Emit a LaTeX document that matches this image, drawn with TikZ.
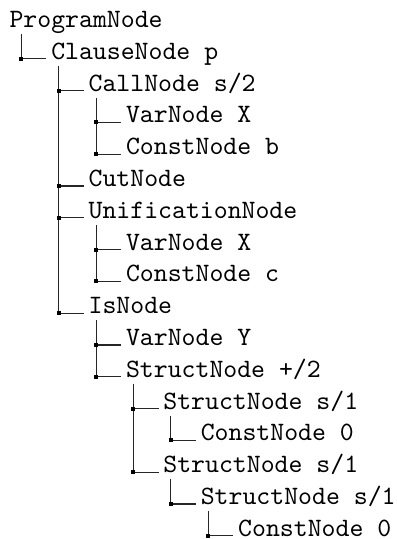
\documentclass[tikz,border=0pt]{standalone}
\usetikzlibrary{calc}
\tikzset{
  treetext/.style={anchor=base west, inner sep=0pt, outer sep=0pt, font=\ttfamily},
  branch/.style={line width=0.4pt, draw=black!85},
  knot/.style={fill=black}
}
\begin{document}
\begin{tikzpicture}
\useasboundingbox (0,0) rectangle (149.8pt,-203.4pt);

% tree entries (one row every 12pt, indent 14.11pt per level)
\node[treetext] (n0)  at (3.6pt,  -10.4pt)  {ProgramNode};
\node[treetext] (n1)  at (19.34pt,-22.4pt)  {ClauseNode p};
\node[treetext] (n2)  at (33.45pt,-34.4pt)  {CallNode s/2};
\node[treetext] (n3)  at (47.56pt,-46.4pt)  {VarNode X};
\node[treetext] (n4)  at (47.56pt,-58.4pt)  {ConstNode b};
\node[treetext] (n5)  at (33.45pt,-70.4pt)  {CutNode};
\node[treetext] (n6)  at (33.45pt,-82.4pt)  {UnificationNode};
\node[treetext] (n7)  at (47.56pt,-94.4pt)  {VarNode X};
\node[treetext] (n8)  at (47.56pt,-106.4pt) {ConstNode c};
\node[treetext] (n9)  at (33.45pt,-118.4pt) {IsNode};
\node[treetext] (n10) at (47.56pt,-130.4pt) {VarNode Y};
\node[treetext] (n11) at (47.56pt,-142.4pt) {StructNode +/2};
\node[treetext] (n12) at (61.67pt,-154.4pt) {StructNode s/1};
\node[treetext] (n13) at (75.78pt,-166.4pt) {ConstNode 0};
\node[treetext] (n14) at (61.67pt,-178.4pt) {StructNode s/1};
\node[treetext] (n15) at (75.78pt,-190.4pt) {StructNode s/1};
\node[treetext] (n16) at (89.89pt,-202.4pt) {ConstNode 0};

% junction points on the parent's vertical rule
\foreach \k in {1,...,16}{
  \coordinate (j\k) at ([xshift=-11.3pt,yshift=0.2pt]n\k.base west);
}

% vertical rules: from below each parent down to its last child
\foreach \p/\l in {0/1, 1/9, 2/4, 6/8, 9/11, 11/14, 12/13, 14/15, 15/16}{
  \draw[branch] ([yshift=-2.5pt]n\p.base west -| j\l) -- (j\l);
}

% horizontal rules and junction squares
\foreach \k in {1,...,16}{
  \draw[branch] (j\k) -- ([xshift=-1.8pt,yshift=0.2pt]n\k.base west);
  \fill[knot] ([shift={(-0.75pt,-0.75pt)}]j\k) rectangle ([shift={(0.75pt,0.75pt)}]j\k);
}
\end{tikzpicture}
\end{document}
